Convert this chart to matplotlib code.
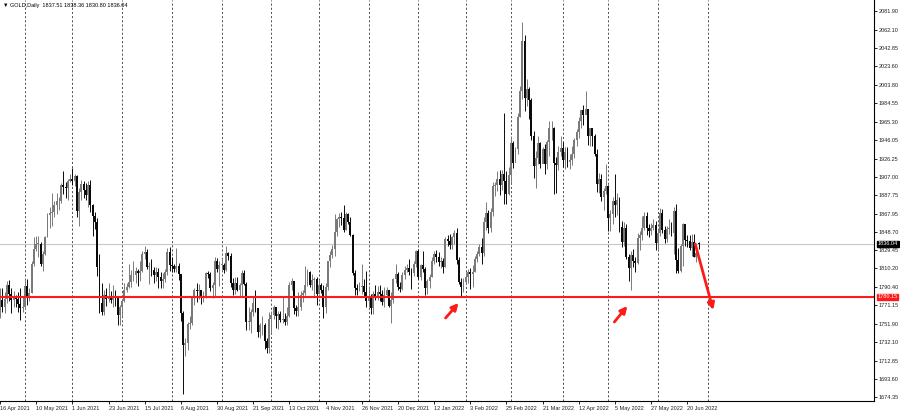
import matplotlib
matplotlib.use('Agg')
import matplotlib.pyplot as plt
import matplotlib.transforms as mtransforms
import numpy as np
import pandas as pd

plt.rcParams['font.family'] = ['Liberation Sans', 'DejaVu Sans']

# trading days shown (no bars on these holidays)
start_date = '2021-04-16'
end_date = '2022-06-27'
holidays = ['2021-12-24', '2022-04-15']

first_open = 1764.0
last_open = 1837.51

close = [
    # Apr 2021
    1777, 1770, 1778, 1793, 1783, 1777, 1780, 1778, 1773, 1768, 1769,
    # May
    1792, 1779, 1784, 1815, 1831, 1836, 1836, 1815, 1826, 1843, 1867, 1869, 1870, 1877, 1881, 1881, 1898, 1896, 1895, 1903, 1905,
    # Jun
    1903, 1908, 1871, 1891, 1899, 1893, 1888, 1898, 1877, 1866, 1859, 1812, 1774, 1764, 1782, 1778, 1779, 1777, 1781, 1780, 1761, 1770,
    # Jul
    1776, 1787, 1791, 1796, 1803, 1803, 1808, 1805, 1808, 1825, 1828, 1812, 1812, 1809, 1803, 1806, 1801, 1797, 1799, 1806, 1828, 1814,
    # Aug
    1813, 1810, 1813, 1804, 1763, 1729, 1731, 1752, 1753, 1780, 1787, 1786, 1787, 1780, 1781, 1805, 1804, 1790, 1793, 1818, 1810, 1814,
    # Sep
    1814, 1809, 1827, 1823, 1795, 1788, 1795, 1788, 1793, 1805, 1794, 1754, 1754, 1764, 1774, 1768, 1743, 1750, 1750, 1734, 1726, 1757,
    # Oct
    1761, 1769, 1760, 1762, 1756, 1757, 1754, 1760, 1793, 1797, 1768, 1765, 1769, 1782, 1784, 1793, 1806, 1793, 1798, 1799, 1783,
    # Nov
    1793, 1788, 1769, 1791, 1818, 1824, 1831, 1849, 1862, 1865, 1863, 1851, 1868, 1859, 1846, 1805, 1790, 1788, 1791, 1792, 1785, 1776,
    # Dec
    1781, 1768, 1783, 1779, 1785, 1783, 1775, 1782, 1787, 1771, 1777, 1799, 1804, 1791, 1789, 1803, 1809, 1811, 1806, 1805, 1815, 1829,
    # Jan 2022
    1801, 1814, 1810, 1790, 1797, 1801, 1818, 1826, 1822, 1817, 1818, 1812, 1841, 1839, 1835, 1843, 1848, 1819, 1796, 1791, 1796,
    # Feb
    1801, 1807, 1804, 1807, 1820, 1826, 1833, 1827, 1859, 1869, 1853, 1870, 1897, 1898, 1905, 1898, 1910, 1903, 1889, 1909,
    # Mar
    1943, 1922, 1936, 1970, 1998, 2050, 1990, 2000, 1988, 1950, 1918, 1927, 1943, 1921, 1936, 1921, 1944, 1958, 1958, 1922, 1919, 1933, 1937,
    # Apr
    1925, 1933, 1923, 1925, 1931, 1946, 1954, 1966, 1977, 1972, 1979, 1950, 1958, 1950, 1931, 1899, 1905, 1886, 1892, 1897,
    # May
    1863, 1868, 1881, 1877, 1883, 1854, 1838, 1853, 1822, 1811, 1824, 1818, 1816, 1842, 1846, 1853, 1866, 1853, 1850, 1853, 1856, 1837,
    # Jun
    1848, 1869, 1851, 1841, 1852, 1853, 1848, 1871, 1819, 1808, 1834, 1857, 1840, 1839, 1832, 1838, 1822, 1827, 1836.04,
]

high = [
    1790, 1790, 1785, 1797, 1798, 1790, 1786, 1782, 1785, 1790, 1781,
    1799, 1799, 1790, 1818, 1843, 1845, 1845, 1838, 1829, 1844, 1869, 1875, 1890, 1881, 1890, 1886, 1900, 1913, 1902, 1905, 1910,
    1916, 1910, 1909, 1895, 1904, 1903, 1900, 1903, 1904, 1878, 1870, 1864, 1826, 1795, 1787, 1790, 1795, 1786, 1793, 1787, 1780, 1772,
    1778, 1795, 1795, 1815, 1809, 1818, 1812, 1810, 1818, 1829, 1834, 1831, 1817, 1820, 1812, 1812, 1811, 1807, 1805, 1810, 1832, 1833,
    1822, 1815, 1832, 1816, 1804, 1765, 1737, 1754, 1760, 1781, 1790, 1795, 1794, 1788, 1786, 1807, 1808, 1806, 1796, 1822, 1821, 1818,
    1820, 1816, 1834, 1828, 1827, 1800, 1801, 1801, 1795, 1809, 1809, 1796, 1770, 1767, 1781, 1787, 1763, 1753, 1760, 1753, 1737, 1764,
    1765, 1772, 1770, 1765, 1765, 1781, 1763, 1770, 1796, 1800, 1797, 1772, 1785, 1786, 1788, 1813, 1810, 1808, 1804, 1801, 1801,
    1798, 1795, 1793, 1795, 1818, 1829, 1835, 1868, 1864, 1869, 1870, 1877, 1870, 1869, 1865, 1847, 1809, 1794, 1796, 1815, 1799, 1808,
    1792, 1783, 1786, 1793, 1792, 1793, 1788, 1791, 1791, 1788, 1785, 1800, 1815, 1806, 1796, 1806, 1813, 1815, 1820, 1811, 1818, 1830,
    1831, 1815, 1829, 1812, 1799, 1804, 1822, 1829, 1830, 1828, 1822, 1821, 1843, 1846, 1847, 1845, 1851, 1853, 1822, 1800, 1800,
    1807, 1810, 1811, 1814, 1823, 1829, 1836, 1842, 1865, 1880, 1872, 1874, 1902, 1902, 1913, 1914, 1914, 1974, 1913, 1917,
    1950, 1945, 1938, 1974, 2003, 2070, 2057, 2010, 2002, 1990, 1955, 1934, 1950, 1944, 1938, 1942, 1946, 1966, 1966, 1960, 1928, 1939, 1950,
    1944, 1938, 1938, 1931, 1939, 1948, 1957, 1970, 1978, 1983, 1998, 1979, 1959, 1957, 1952, 1936, 1911, 1910, 1895, 1920,
    1898, 1872, 1886, 1910, 1890, 1886, 1860, 1859, 1857, 1826, 1829, 1831, 1822, 1848, 1850, 1866, 1870, 1870, 1857, 1858, 1862, 1860,
    1852, 1874, 1873, 1855, 1855, 1862, 1859, 1875, 1878, 1832, 1836, 1858, 1857, 1846, 1846, 1847, 1847, 1833, 1838.36,
]

low = [
    1758, 1764, 1763, 1774, 1776, 1763, 1770, 1769, 1764, 1756, 1764,
    1767, 1772, 1776, 1784, 1813, 1829, 1822, 1813, 1808, 1824, 1843, 1853, 1855, 1865, 1868, 1872, 1879, 1889, 1885, 1883, 1901,
    1898, 1897, 1865, 1855, 1883, 1885, 1883, 1875, 1870, 1845, 1852, 1802, 1763, 1761, 1761, 1771, 1775, 1774, 1770, 1771, 1751, 1750,
    1760, 1775, 1785, 1790, 1791, 1797, 1795, 1792, 1797, 1806, 1820, 1810, 1794, 1802, 1795, 1797, 1790, 1790, 1790, 1796, 1803, 1808,
    1806, 1807, 1807, 1798, 1755, 1678, 1718, 1724, 1746, 1751, 1772, 1775, 1778, 1773, 1775, 1779, 1800, 1786, 1779, 1781, 1807, 1792,
    1808, 1805, 1808, 1819, 1791, 1782, 1783, 1786, 1781, 1781, 1793, 1745, 1745, 1742, 1760, 1764, 1738, 1737, 1740, 1725, 1721, 1721,
    1742, 1757, 1747, 1746, 1754, 1753, 1750, 1750, 1759, 1787, 1762, 1760, 1760, 1766, 1775, 1782, 1792, 1791, 1788, 1780, 1772,
    1783, 1784, 1758, 1763, 1787, 1812, 1821, 1823, 1845, 1854, 1856, 1849, 1851, 1857, 1845, 1803, 1782, 1782, 1786, 1783, 1780, 1770,
    1770, 1762, 1762, 1777, 1777, 1776, 1772, 1770, 1780, 1769, 1753, 1774, 1795, 1788, 1785, 1788, 1799, 1806, 1803, 1789, 1802, 1812,
    1799, 1798, 1807, 1782, 1783, 1790, 1801, 1815, 1817, 1813, 1811, 1805, 1812, 1834, 1831, 1831, 1836, 1815, 1794, 1780, 1785,
    1795, 1795, 1789, 1791, 1806, 1817, 1823, 1815, 1823, 1851, 1848, 1849, 1866, 1887, 1892, 1888, 1893, 1878, 1878, 1888,
    1900, 1916, 1923, 1931, 1970, 1989, 1976, 1982, 1968, 1946, 1906, 1895, 1920, 1916, 1922, 1910, 1915, 1929, 1946, 1889, 1890, 1914, 1929,
    1917, 1915, 1917, 1915, 1919, 1927, 1939, 1948, 1958, 1962, 1973, 1941, 1939, 1940, 1929, 1891, 1890, 1881, 1872, 1889,
    1850, 1850, 1857, 1865, 1867, 1849, 1833, 1834, 1820, 1797, 1787, 1812, 1807, 1815, 1830, 1840, 1851, 1846, 1843, 1846, 1851, 1830,
    1829, 1844, 1848, 1837, 1838, 1847, 1845, 1825, 1805, 1805, 1807, 1813, 1834, 1833, 1830, 1823, 1822, 1817, 1830.80,
]

price_ticks = [2081.90, 2062.10, 2042.85, 2023.60, 2003.80, 1984.55, 1965.30, 1946.05,
               1926.25, 1907.00, 1887.75, 1867.95, 1848.70, 1829.45, 1810.20, 1790.40,
               1771.15, 1751.90, 1732.10, 1712.85, 1693.60, 1674.35]
support_level = 1780.15
header = '\u25bc GOLD,Daily  1837.51 1838.36 1830.80 1836.04'

dates = pd.bdate_range(start_date, end_date)
dates = dates[~dates.isin(pd.to_datetime(holidays))]
assert len(dates) == len(close) == len(high) == len(low), (len(dates), len(close), len(high), len(low))

c = np.array(close, dtype=float)
h = np.array(high, dtype=float)
l = np.array(low, dtype=float)
o = np.r_[first_open, c[:-1]]
o[-1] = last_open
idx = np.arange(len(c))

# pixel geometry of the screenshot
W, H = 900, 416
bar_px, x0_px = 2.264, -1.2
right_px, bottom_px = 874, 401
ref_price, ref_y, per_px = 1836.04, 244, 1.0558


def px2data(px, py):
    return (px - x0_px) / bar_px, ref_price - (py - ref_y) * per_px


fig = plt.figure(figsize=(W / 100, H / 100), dpi=100)
ax = fig.add_axes([0, 1 - bottom_px / H, right_px / W, bottom_px / H])
ax.set_xlim((0 - x0_px) / bar_px, (right_px - x0_px) / bar_px)
ax.set_ylim(px2data(0, bottom_px)[1], px2data(0, 0)[1])

# month separators
sep_dates = pd.bdate_range(start_date, '2022-07-01')
sep_dates = sep_dates[~sep_dates.isin(pd.to_datetime(holidays))]
for i in range(1, len(sep_dates)):
    if sep_dates[i].month != sep_dates[i - 1].month:
        ax.axvline(i, color='#333333', lw=0.6, ls=(0, (2.5, 2.5)), zorder=1)

ax.axhline(c[-1], color='#c8c8c8', lw=0.8, zorder=1)
ax.axhline(support_level, color='#ff1a1a', lw=1.5, zorder=4)

up = c >= o
col = np.where(up, '#7a7a7a', '#0a0a0a')
ax.vlines(idx, l, h, colors=col, lw=0.7, zorder=2)
body = np.maximum(np.abs(c - o), 0.8)
ax.bar(idx, body, bottom=np.minimum(o, c), width=0.85, color=col, lw=0, zorder=3)

# arrows
arrows = [((445, 318), (458, 303)), ((614, 322), (627, 306)), ((695, 244), (713, 310))]
for tail, tip in arrows:
    ax.annotate('', xy=px2data(*tip), xytext=px2data(*tail),
                arrowprops=dict(arrowstyle='-|>', color='#ff1a1a', lw=2.0,
                                mutation_scale=10, shrinkA=0, shrinkB=0), zorder=5)

# right price axis
ax.yaxis.tick_right()
ax.set_yticks(price_ticks)
ax.set_yticklabels(['%.2f' % p for p in price_ticks])
ax.tick_params(axis='y', labelsize=4.0, length=2, pad=1.5, width=0.6, labelcolor='#222222')

trans = mtransforms.blended_transform_factory(ax.transAxes, ax.transData)
ax.text(1.004, c[-1], '%.2f' % c[-1], transform=trans, fontsize=4.0, color='white',
        va='center', ha='left', bbox=dict(boxstyle='square,pad=0.15', fc='black', ec='black'))
ax.text(1.004, support_level, '%.2f' % support_level, transform=trans, fontsize=4.0,
        color='white', va='center', ha='left',
        bbox=dict(boxstyle='square,pad=0.15', fc='#ff1a1a', ec='#ff1a1a'))

# bottom date axis
tick_idx = idx[::16]
ax.set_xticks(tick_idx)
ax.set_xticklabels(['%d %s' % (dates[i].day, dates[i].strftime('%b %Y')) for i in tick_idx])
ax.tick_params(axis='x', labelsize=4.0, length=2, pad=1.5, width=0.6, labelcolor='#222222')
for t in ax.get_xticklabels():
    t.set_horizontalalignment('left')

for s in ['top', 'left']:
    ax.spines[s].set_visible(False)
for s in ['right', 'bottom']:
    ax.spines[s].set_linewidth(0.8)

fig.text(3 / W, 1 - 5 / H, header, fontsize=4.0, va='center', ha='left')

fig.savefig('out.png', dpi=100, facecolor='white')
